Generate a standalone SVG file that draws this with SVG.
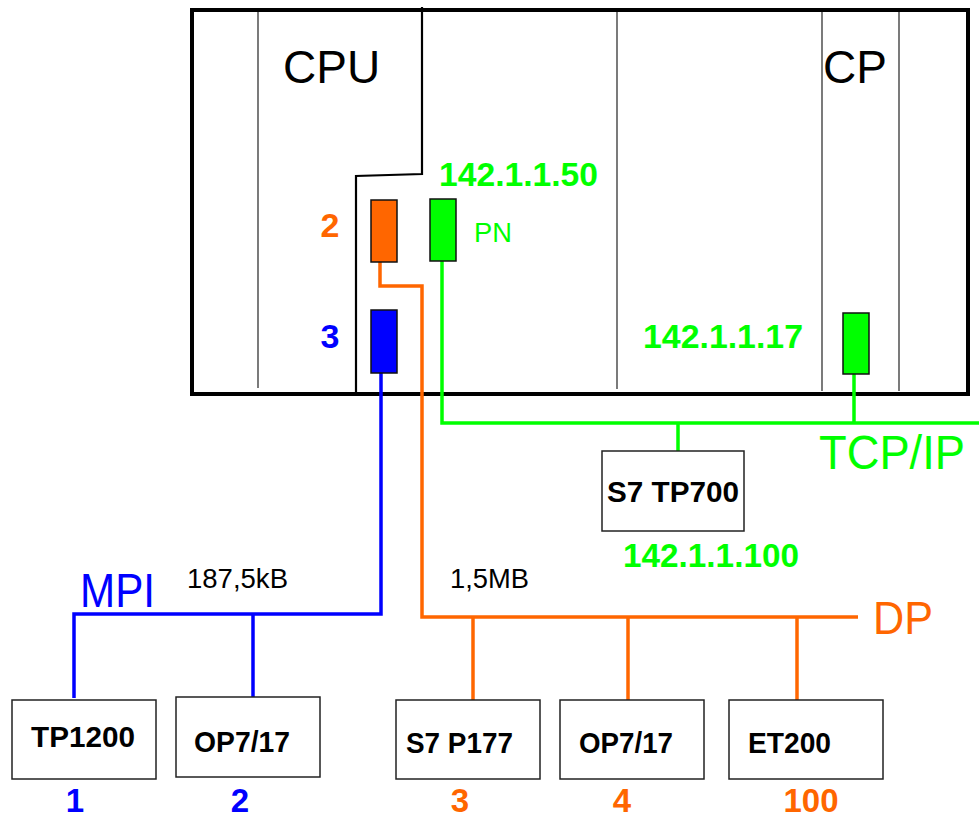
<svg xmlns="http://www.w3.org/2000/svg" width="979" height="816" viewBox="0 0 979 816">
<style>
.t{font-family:"Liberation Sans",Arial,sans-serif}
.b{font-weight:bold}
.box{fill:#fff;stroke:#222;stroke-width:1.5}
.div{stroke:#222;stroke-width:1.2;fill:none}
.or{stroke:#FF6600;stroke-width:3.5;fill:none;stroke-linejoin:miter}
.bl{stroke:#0000FF;stroke-width:3.5;fill:none}
.gr{stroke:#00FF00;stroke-width:3.5;fill:none}
.port{stroke:#111;stroke-width:1.5}
</style>
<rect width="979" height="816" fill="#fff"/>
<g id="rack">
<rect x="192" y="10" width="776" height="384" fill="none" stroke="#000" stroke-width="4"/>
<line class="div" x1="258" y1="12" x2="258" y2="388"/>
<line class="div" x1="617" y1="12" x2="617" y2="389"/>
<line class="div" x1="822" y1="12" x2="822" y2="391"/>
<line class="div" x1="899" y1="12" x2="899" y2="391"/>
<polyline points="422,7 422,174 356,176 356,394" fill="none" stroke="#000" stroke-width="2.2"/>
<text class="t" x="283" y="83" font-size="46">CPU</text>
<text class="t" x="823" y="83" font-size="46">CP</text>
</g>
<g id="connectors">
<polyline class="or" points="380,262 380,286 422,286 422,617 858,617"/>
<line class="or" x1="473" y1="617" x2="473" y2="700"/>
<line class="or" x1="628" y1="617" x2="628" y2="700"/>
<line class="or" x1="797" y1="617" x2="797" y2="703"/>
<polyline class="bl" points="381,373 381,614 74,614 74,698"/>
<line class="bl" x1="253" y1="614" x2="253" y2="697"/>
<polyline class="gr" points="442,261 442,423 979,423"/>
<line class="gr" x1="854" y1="374" x2="854" y2="423"/>
<line class="gr" x1="678" y1="423" x2="678" y2="451"/>
</g>
<g id="port-dp">
<rect class="port" x="371" y="200" width="26" height="62" fill="#FF6600"/>
<text class="t b" x="330" y="237" font-size="34" fill="#FF6600" text-anchor="middle">2</text>
</g>
<g id="port-pn">
<rect class="port" x="430" y="199" width="26" height="62" fill="#00FF00"/>
<text class="t" x="474" y="242" font-size="28" fill="#00FF00" textLength="38" lengthAdjust="spacingAndGlyphs">PN</text>
<text class="t b" x="439" y="186" font-size="34" fill="#00FF00" textLength="159" lengthAdjust="spacingAndGlyphs">142.1.1.50</text>
</g>
<g id="port-mpi">
<rect class="port" x="371" y="310" width="26" height="63" fill="#0000FF"/>
<text class="t b" x="330" y="348" font-size="34" fill="#0000FF" text-anchor="middle">3</text>
</g>
<g id="port-cp">
<rect class="port" x="843" y="313" width="26" height="61" fill="#00FF00"/>
<text class="t b" x="643" y="348" font-size="34" fill="#00FF00" textLength="160" lengthAdjust="spacingAndGlyphs">142.1.1.17</text>
</g>
<g id="bus-labels">
<text class="t" x="819" y="469" font-size="48" fill="#00FF00" textLength="146" lengthAdjust="spacingAndGlyphs">TCP/IP</text>
<text class="t" x="80" y="607" font-size="48" fill="#0000FF" textLength="75" lengthAdjust="spacingAndGlyphs">MPI</text>
<text class="t" x="873" y="634" font-size="46" fill="#FF6600" textLength="60" lengthAdjust="spacingAndGlyphs">DP</text>
<text class="t" x="187" y="588" font-size="28" fill="#000" textLength="101" lengthAdjust="spacingAndGlyphs">187,5kB</text>
<text class="t" x="450" y="588" font-size="28" fill="#000" textLength="79" lengthAdjust="spacingAndGlyphs">1,5MB</text>
</g>
<g id="s7tp700">
<rect class="box" x="602" y="451" width="142" height="80"/>
<text class="t b" x="607" y="502" font-size="29" textLength="132" lengthAdjust="spacingAndGlyphs">S7 TP700</text>
<text class="t b" x="623" y="567" font-size="34" fill="#00FF00" textLength="176" lengthAdjust="spacingAndGlyphs">142.1.1.100</text>
</g>
<g id="tp1200">
<rect class="box" x="12" y="700" width="144" height="79"/>
<text class="t b" x="31" y="747" font-size="30" textLength="104" lengthAdjust="spacingAndGlyphs">TP1200</text>
<text class="t b" x="75" y="812" font-size="33" fill="#0000FF" text-anchor="middle">1</text>
</g>
<g id="op717-1">
<rect class="box" x="176" y="697" width="144" height="80"/>
<text class="t b" x="194" y="752" font-size="30" textLength="96" lengthAdjust="spacingAndGlyphs">OP7/17</text>
<text class="t b" x="240" y="812" font-size="33" fill="#0000FF" text-anchor="middle">2</text>
</g>
<g id="s7p177">
<rect class="box" x="396" y="700" width="144" height="79"/>
<text class="t b" x="406" y="753" font-size="30" textLength="107" lengthAdjust="spacingAndGlyphs">S7 P177</text>
<text class="t b" x="460" y="812" font-size="33" fill="#FF6600" text-anchor="middle">3</text>
</g>
<g id="op717-2">
<rect class="box" x="560" y="700" width="144" height="79"/>
<text class="t b" x="579" y="753" font-size="30" textLength="94" lengthAdjust="spacingAndGlyphs">OP7/17</text>
<text class="t b" x="622" y="812" font-size="33" fill="#FF6600" text-anchor="middle">4</text>
</g>
<g id="et200">
<rect class="box" x="729" y="700" width="154" height="79"/>
<text class="t b" x="748" y="753" font-size="30" textLength="83" lengthAdjust="spacingAndGlyphs">ET200</text>
<text class="t b" x="811" y="812" font-size="33" fill="#FF6600" text-anchor="middle">100</text>
</g>
</svg>
